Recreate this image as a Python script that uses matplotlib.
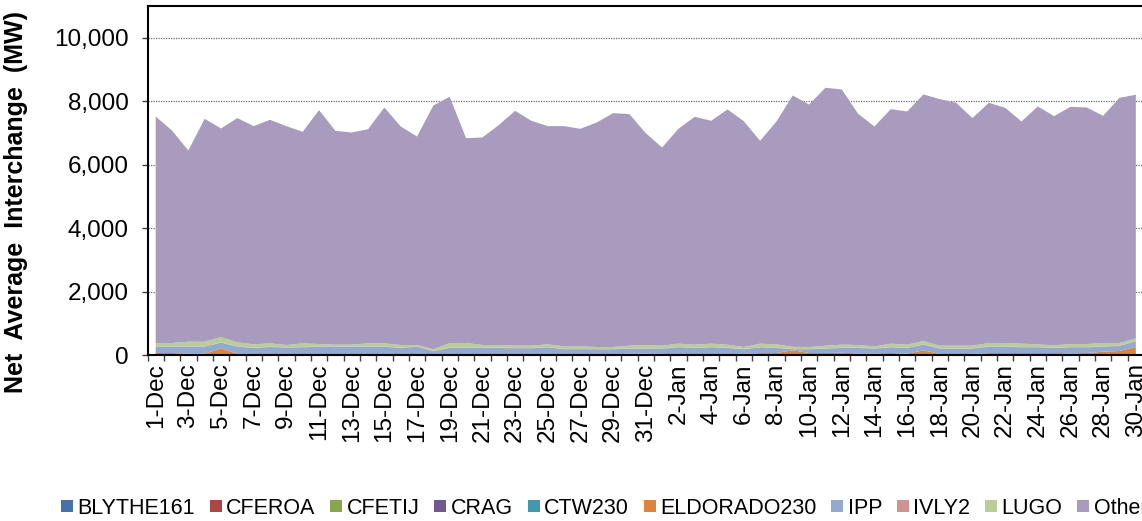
import matplotlib
matplotlib.use("Agg")
import matplotlib.pyplot as plt
from matplotlib.lines import Line2D
from matplotlib.ticker import FuncFormatter, FixedLocator

plt.rcParams['font.family'] = ['Liberation Sans', 'DejaVu Sans']

dates = [f"{d}-Dec" for d in range(1, 32)] + [f"{d}-Jan" for d in range(1, 31)]

series_names = ["BLYTHE161", "CFEROA", "CFETIJ", "CRAG", "CTW230",
                "ELDORADO230", "IPP", "IVLY2", "LUGO", "Other"]

blythe161 = [10, 10, 10, 10, 10, 10, 10, 10, 10, 10, 10, 10, 10, 10, 10, 10,
             10, 10, 10, 10, 10, 10, 10, 10, 10, 10, 10, 10, 10, 10, 10,
             10, 10, 10, 10, 10, 10, 10, 10, 10, 10, 10, 10, 10, 10, 10,
             10, 10, 10, 10, 10, 10, 10, 10, 10, 10, 10, 10, 10, 10, 10]
cferoa = [0, 0, 0, 0, 0, 0, 0, 0, 0, 0, 0, 0, 0, 0, 0, 0,
          0, 0, 0, 0, 0, 0, 0, 0, 0, 0, 0, 0, 0, 0, 0,
          0, 0, 0, 0, 0, 0, 0, 0, 0, 0, 0, 0, 0, 0, 0,
          0, 0, 0, 0, 0, 0, 0, 0, 0, 0, 0, 0, 0, 0, 0]
cfetij = [0, 0, 0, 0, 0, 0, 0, 0, 0, 0, 0, 0, 0, 0, 0, 0,
          0, 0, 0, 0, 0, 0, 0, 0, 0, 0, 0, 0, 0, 0, 0,
          0, 0, 0, 0, 0, 0, 0, 0, 0, 0, 0, 0, 0, 0, 0,
          0, 0, 0, 0, 0, 0, 0, 0, 0, 0, 0, 0, 0, 0, 0]
crag = [15, 15, 15, 15, 15, 15, 15, 15, 15, 15, 15, 15, 15, 15, 15, 15,
        15, 15, 15, 15, 15, 15, 15, 15, 15, 15, 15, 15, 15, 15, 15,
        15, 15, 15, 15, 15, 15, 15, 15, 15, 15, 15, 15, 15, 15, 15,
        15, 15, 15, 15, 15, 15, 15, 15, 15, 15, 15, 15, 15, 15, 15]
ctw230 = [5, 5, 5, 5, 5, 5, 5, 5, 5, 5, 5, 5, 5, 5, 5, 5,
          5, 5, 5, 5, 5, 5, 5, 5, 5, 5, 5, 5, 5, 5, 5,
          5, 5, 5, 5, 5, 5, 5, 5, 5, 5, 5, 5, 5, 5, 5,
          5, 5, 5, 5, 5, 5, 5, 5, 5, 5, 5, 5, 5, 5, 5]
eldorado230 = [33, 33, 10, 8, 180, 5, 0, 0, 0, 0, 0, 0, 0, 0, 0, 0,
               0, 0, 0, 0, 0, 0, 0, 0, 0, 0, 0, 0, 0, 5, 10,
               0, 0, 0, 0, 0, 5, 33, 33, 120, 33, 33, 40, 22, 22, 33,
               12, 117, 0, 0, 0, 33, 33, 33, 33, 33, 22, 33, 75, 96, 222]
ipp = [200, 200, 223, 225, 179, 228, 191, 223, 202, 212, 233, 233, 233, 233, 233, 191,
       233, 90, 191, 202, 191, 191, 181, 181, 212, 149, 149, 149, 149, 165, 160,
       170, 212, 191, 212, 191, 144, 179, 158, 30, 116, 137, 151, 169, 148, 179,
       179, 179, 170, 170, 170, 200, 200, 179, 179, 158, 190, 179, 158, 158, 179]
ivly2 = [10, 10, 10, 10, 10, 10, 10, 10, 10, 10, 10, 10, 10, 10, 10, 10,
         10, 10, 10, 10, 10, 10, 10, 10, 10, 10, 10, 10, 10, 10, 10,
         10, 10, 10, 10, 10, 10, 10, 10, 10, 10, 10, 10, 10, 10, 10,
         10, 10, 10, 10, 10, 10, 10, 10, 10, 10, 10, 10, 10, 10, 10]
lugo = [105, 105, 147, 147, 168, 126, 105, 105, 73, 116, 74, 53, 53, 95, 95, 84,
        42, 50, 147, 136, 84, 84, 73, 73, 84, 84, 84, 63, 63, 84, 105,
        84, 105, 95, 105, 95, 63, 105, 105, 70, 63, 84, 95, 84, 63, 105,
        95, 105, 84, 84, 84, 105, 105, 105, 84, 74, 95, 95, 105, 84, 84]
other = [7139, 6698, 6025, 7025, 6573, 7068, 6878, 7045, 6899, 6667, 7371, 6740, 6687, 6750, 7433, 6888,
         6572, 7685, 7761, 6457, 6541, 6930, 7403, 7088, 6878, 6941, 6856, 7077, 7372, 7298, 6678,
         6246, 6772, 7182, 7025, 7413, 7119, 6394, 7024, 7920, 7644, 8129, 8044, 7288, 6930, 7392,
         7350, 7771, 7771, 7656, 7172, 7572, 7414, 7003, 7497, 7224, 7476, 7455, 7161, 7729, 7677]

colors = ["#4572A7", "#AA4643", "#89A54E", "#71588F", "#4198AF",
          "#DB843D", "#93A9CF", "#D19392", "#B9CD96", "#A99BBD"]

W, H = 1142, 521
fig = plt.figure(figsize=(W / 100, H / 100), dpi=100)
ax = fig.add_axes([147.5 / W, 1 - 355 / H, (1144 - 147.5) / W, (355 - 6) / H])

x = list(range(len(dates)))
ax.stackplot(x, blythe161, cferoa, cfetij, crag, ctw230, eldorado230,
             ipp, ivly2, lugo, other, colors=colors, linewidth=0, zorder=2)

ax.set_xlim(-0.5, len(dates) - 0.5)
ax.set_ylim(0, 11000)

# y axis
ax.set_yticks(range(0, 10001, 2000))
ax.yaxis.set_major_formatter(FuncFormatter(lambda v, p: f"{int(v):,}"))
ax.tick_params(axis='y', direction='out', length=4.5, width=1, color='#404040',
               labelsize=17.5, pad=9)
ax.grid(axis='y', linestyle=(0, (1, 1)), color='#6f6f6f', linewidth=0.9, zorder=1)
ax.set_axisbelow(True)

# x axis
ax.xaxis.set_major_locator(FixedLocator(x[::2]))
ax.set_xticklabels(dates[::2], rotation=90)
ax.xaxis.set_minor_locator(FixedLocator([i - 0.5 for i in range(len(dates) + 1)]))
ax.tick_params(axis='x', which='major', length=0, labelsize=17.5, pad=6)
ax.tick_params(axis='x', which='minor', direction='out', length=4, width=1, color='#404040')

for s in ['left', 'bottom', 'top']:
    ax.spines[s].set_linewidth(1.5)
    ax.spines[s].set_color('black')
ax.spines['right'].set_visible(False)

fig.text(16.5 / W, 1 - 202 / H, "Net  Average  Interchange  (MW)", rotation=90,
         ha='center', va='center', fontsize=18, fontweight='bold')

handles = [Line2D([], [], linestyle='none', marker='s', markersize=8,
                  markerfacecolor=c, markeredgewidth=0) for c in colors]
fig.legend(handles, series_names, loc='center left',
           bbox_to_anchor=(61 / W, 1 - 508 / H), ncol=10, frameon=False,
           borderpad=0, borderaxespad=0, fontsize=15.5, handlelength=0.55,
           handletextpad=0.2, columnspacing=0.7)

fig.savefig("out.png", dpi=100)
